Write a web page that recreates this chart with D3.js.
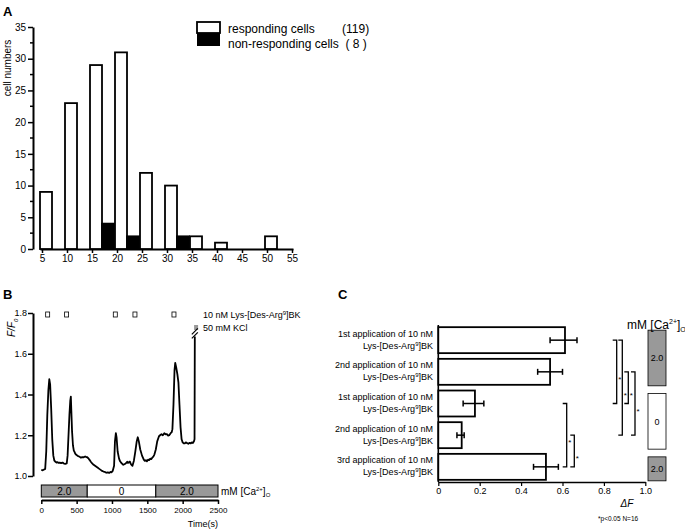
<!DOCTYPE html>
<html><head><meta charset="utf-8">
<script src="https://cdn.jsdelivr.net/npm/d3@7"></script>
<style>
body{margin:0;background:#fff;}
svg{display:block;font-family:"Liberation Sans",Arial,Helvetica,sans-serif;}
</style></head>
<body><svg id="c" width="685" height="532"></svg>
<script>
// ---------- DATA ----------
// Panel A: histogram
const binsA = [5,10,15,20,25,30,35,40,45,50];
const respondingA = [9,23,29,31,12,10,2,1,0,2];
const nonRespondingA = [0,0,4,2,0,2,0,0,0,0];
const legendA = ["responding cells","non-responding cells"];
const legendCountsA = ["(119)","( 8 )"];
const yTicksA = [0,5,10,15,20,25,30,35];
const xTicksA = [5,10,15,20,25,30,35,40,45,50,55];

// Panel B: trace
const timeB = [0,20,40,55,70,85,100,113,125,140,155,170,185,200,215,230,245,260,280,300,320,340,360,372,385,398,410,418,425,435,448,460,470,480,495,510,525,540,560,580,600,620,635,650,670,685,700,720,740,760,780,800,820,840,860,880,900,920,940,960,980,995,1010,1030,1042,1055,1065,1080,1100,1115,1130,1145,1160,1175,1190,1205,1215,1225,1235,1245,1255,1265,1275,1290,1310,1330,1350,1365,1380,1400,1425,1450,1465,1480,1495,1510,1525,1540,1555,1570,1585,1600,1620,1640,1665,1680,1700,1720,1740,1760,1780,1795,1810,1830,1845,1855,1870,1885,1895,1910,1925,1940,1955,1970,1985,2000,2015,2030,2045,2060,2080,2100,2115,2130,2145,2160,2168,2172];
const ratioB = [1.03,1.028,1.032,1.035,1.12,1.30,1.42,1.475,1.45,1.33,1.18,1.10,1.075,1.07,1.066,1.068,1.064,1.066,1.063,1.066,1.061,1.06,1.062,1.10,1.20,1.30,1.37,1.39,1.32,1.22,1.15,1.125,1.118,1.11,1.104,1.10,1.097,1.095,1.09,1.093,1.092,1.096,1.093,1.092,1.085,1.078,1.07,1.062,1.055,1.05,1.045,1.04,1.035,1.03,1.025,1.022,1.02,1.016,1.018,1.015,1.02,1.018,1.025,1.05,1.17,1.21,1.19,1.12,1.085,1.072,1.065,1.06,1.055,1.058,1.06,1.066,1.07,1.064,1.065,1.07,1.07,1.06,1.055,1.05,1.075,1.12,1.17,1.19,1.17,1.13,1.10,1.08,1.074,1.078,1.072,1.08,1.078,1.085,1.083,1.09,1.095,1.105,1.13,1.17,1.195,1.2,1.205,1.2,1.21,1.205,1.205,1.198,1.20,1.21,1.215,1.23,1.35,1.52,1.555,1.53,1.50,1.46,1.35,1.24,1.18,1.165,1.16,1.16,1.165,1.162,1.158,1.163,1.16,1.165,1.162,1.17,1.18,1.685];
const stimTimesB = [90,358,1047,1325,1877];
const kclTimeB = 2190;
const caSegmentsB = [{from:0,to:650,label:"2.0"},{from:650,to:1620,label:"0"},{from:1620,to:2500,label:"2.0"}];
const yTicksB = [1.0,1.2,1.4,1.6,1.8];
const xTicksB = [0,500,1000,1500,2000,2500];

// Panel C: bars
const catsC = ["1st","2nd","1st","2nd","3rd"];
const meansC = [0.612,0.54,0.177,0.113,0.52];
const errLoC = [0.54,0.48,0.12,0.09,0.46];
const errHiC = [0.67,0.60,0.22,0.125,0.58];
const xTicksC = [0,0.2,0.4,0.6,0.8,1.0];
const compsC = [[0,2],[0,3],[1,2],[1,3],[2,4],[3,4]];
const caGroupsC = [{from:0,to:1,label:"2.0"},{from:2,to:3,label:"0"},{from:4,to:4,label:"2.0"}];

// ---------- DRAW ----------
const svg = d3.select("#c");
const GRAY = "#999999";

// ===== Panel A =====
const gA = svg.append("g");
const xA = d3.scaleLinear().domain([4.6,55.2]).range([40,293]);
const yA = d3.scaleLinear().domain([0,35]).range([249,27]);
gA.append("text").attr("x",3).attr("y",16).attr("font-size",13).attr("font-weight","bold").text("A");

const axA = gA.append("g").attr("transform","translate(33,0)")
  .call(d3.axisLeft(yA).tickValues(yTicksA).tickSize(5).tickSizeOuter(0));
axA.select(".domain").attr("stroke-width",2);
axA.selectAll(".tick line").attr("stroke-width",1.5);
axA.selectAll(".tick text").attr("font-size",10).attr("x",-7).attr("font-family",null);
// minor ticks
gA.append("g").selectAll("line").data(yTicksA.slice(0,-1).map(d=>d+2.5)).join("line")
  .attr("x1",30).attr("x2",33).attr("y1",d=>yA(d)).attr("y2",d=>yA(d)).attr("stroke","#000").attr("stroke-width",1.5);

const axAx = gA.append("g").attr("transform","translate(0,249)")
  .call(d3.axisBottom(xA).tickValues(xTicksA).tickSize(4).tickSizeOuter(0));
axAx.select(".domain").attr("stroke-width",2);
axAx.selectAll(".tick line").attr("stroke-width",1.5);
axAx.selectAll(".tick text").attr("font-size",10).attr("y",6).attr("font-family",null);

gA.append("text").attr("transform","translate(11,68) rotate(-90)").attr("text-anchor","middle")
  .attr("font-size",10).text("cell numbers");

gA.append("g").selectAll("rect").data(binsA.map((b,i)=>({b,v:respondingA[i]})).filter(d=>d.v>0)).join("rect")
  .attr("x",d=>xA(d.b-0.4)).attr("width",d=>xA(d.b+2)-xA(d.b-0.4))
  .attr("y",d=>yA(d.v)).attr("height",d=>yA(0)-yA(d.v))
  .attr("fill","#fff").attr("stroke","#000").attr("stroke-width",1.8);
gA.append("g").selectAll("rect").data(binsA.map((b,i)=>({b,v:nonRespondingA[i]})).filter(d=>d.v>0)).join("rect")
  .attr("x",d=>xA(d.b+2)).attr("width",d=>xA(d.b+4.4)-xA(d.b+2))
  .attr("y",d=>yA(d.v)).attr("height",d=>yA(0)-yA(d.v))
  .attr("fill","#000").attr("stroke","#000").attr("stroke-width",1.8);

// legend
const lg = gA.append("g");
lg.append("rect").attr("x",197).attr("y",22).attr("width",23).attr("height",11).attr("fill","#fff").attr("stroke","#000").attr("stroke-width",1.8);
lg.append("rect").attr("x",197).attr("y",33).attr("width",23).attr("height",13).attr("fill","#000");
legendA.forEach((t,i)=>{
  lg.append("text").attr("x",228).attr("y",33+i*14.5).attr("font-size",12).text(t);
});
lg.append("text").attr("x",342).attr("y",33).attr("font-size",12).text(legendCountsA[0]);
lg.append("text").attr("x",345.5).attr("y",47.5).attr("font-size",12).text(legendCountsA[1]);

// ===== Panel B =====
const gB = svg.append("g");
const xB = d3.scaleLinear().domain([0,2500]).range([41.3,218]);
const yB = d3.scaleLinear().domain([1.0,1.8]).range([476,313]);
gB.append("text").attr("x",3).attr("y",299).attr("font-size",13).attr("font-weight","bold").text("B");

const axB = gB.append("g").attr("transform","translate(33,0)")
  .call(d3.axisLeft(yB).tickValues(yTicksB).tickFormat(d3.format(".1f")).tickSize(5).tickSizeOuter(0));
axB.select(".domain").attr("stroke-width",2);
axB.selectAll(".tick line").attr("stroke-width",1.5);
axB.selectAll(".tick text").attr("font-size",9).attr("x",-6).attr("font-family",null);

const axBx = gB.append("g").attr("transform","translate(0,500)")
  .call(d3.axisBottom(xB).tickValues(xTicksB).tickFormat(d3.format("d")).tickSize(4).tickSizeOuter(0));
axBx.select(".domain").attr("stroke-width",2);
axBx.selectAll(".tick line").attr("stroke-width",1.5);
axBx.selectAll(".tick text").attr("font-size",8).attr("y",7).attr("font-family",null);
gB.append("text").attr("x",218).attr("y",527).attr("text-anchor","end").attr("font-size",9).text("Time(s)");

const fl = gB.append("text").attr("transform","translate(15,337) rotate(-90)").attr("font-size",10).attr("font-style","italic");
fl.append("tspan").text("F/F");
fl.append("tspan").attr("font-size",6).attr("dy",3).text("0");

// Ca bar
gB.append("g").selectAll("rect").data(caSegmentsB).join("rect")
  .attr("x",d=>xB(d.from)).attr("width",d=>xB(d.to)-xB(d.from)).attr("y",485).attr("height",12)
  .attr("fill",d=>d.label==="0"?"#fff":GRAY).attr("stroke","#000").attr("stroke-width",1);
gB.append("g").selectAll("text").data(caSegmentsB).join("text")
  .attr("x",d=>(xB(d.from)+xB(d.to))/2).attr("y",494.5).attr("text-anchor","middle").attr("font-size",10)
  .text(d=>d.label);
const cl = gB.append("text").attr("x",221).attr("y",495).attr("font-size",10);
cl.append("tspan").text("mM [Ca");
cl.append("tspan").attr("font-size",6).attr("dy",-4).text("2+");
cl.append("tspan").attr("dy",4).text("]");
cl.append("tspan").attr("font-size",6).attr("dy",2).text("O");

// stimulus markers
gB.append("g").selectAll("rect").data(stimTimesB).join("rect")
  .attr("x",d=>xB(d)-2).attr("y",312).attr("width",4).attr("height",5)
  .attr("fill","#fff").attr("stroke","#000").attr("stroke-width",0.8);
gB.append("rect").attr("x",xB(kclTimeB)-2).attr("y",325).attr("width",4).attr("height",5).attr("fill",GRAY);
gB.append("text").attr("x",203).attr("y",318).attr("font-size",9).call(t=>{
  t.append("tspan").text("10 nM Lys-[Des-Arg");
  t.append("tspan").attr("font-size",6).attr("dy",-3).text("9");
  t.append("tspan").attr("dy",3).text("]BK");
});
gB.append("text").attr("x",203).attr("y",331).attr("font-size",9).text("50 mM KCl");

// trace
gB.append("path").datum(timeB.map((t,i)=>[t,ratioB[i]]))
  .attr("d",d3.line().x(d=>xB(d[0])).y(d=>yB(d[1])))
  .attr("fill","none").attr("stroke","#000").attr("stroke-width",1.8).attr("stroke-linejoin","round");
// break marks
const bx = xB(timeB[timeB.length-1]), by = yB(ratioB[ratioB.length-1]);
[0,4].forEach(o=>{
  gB.append("line").attr("x1",bx-3).attr("y1",by-o+2).attr("x2",bx+3).attr("y2",by-o-4)
    .attr("stroke","#000").attr("stroke-width",1.2);
});

// ===== Panel C =====
const gC = svg.append("g");
const xC = d3.scaleLinear().domain([0,1]).range([438.3,645.3]);
const yC = d3.scaleBand().domain(d3.range(catsC.length)).range([324,483]).paddingInner(0.18).paddingOuter(0.1);
const bw = yC.bandwidth();
gC.append("text").attr("x",338).attr("y",299).attr("font-size",13).attr("font-weight","bold").text("C");

const axC = gC.append("g").attr("transform","translate(0,482)")
  .call(d3.axisBottom(xC).tickValues(xTicksC).tickFormat(d=>d===0?"0":d3.format(".1f")(d)).tickSize(4).tickSizeOuter(0));
axC.select(".domain").attr("stroke-width",1.6);
axC.selectAll(".tick line").attr("stroke-width",1.2);
axC.selectAll(".tick text").attr("font-size",9).attr("y",6).attr("font-family",null);
gC.append("line").attr("x1",438.3).attr("x2",438.3).attr("y1",325).attr("y2",482).attr("stroke","#000").attr("stroke-width",1.6);
gC.append("text").attr("x",627).attr("y",507).attr("text-anchor","middle").attr("font-size",10).attr("font-style","italic").text("ΔF");
gC.append("text").attr("x",598).attr("y",521).attr("font-size",6.5).text("*p<0.05  N=16");

// bars
gC.append("g").selectAll("rect").data(meansC).join("rect")
  .attr("x",xC(0)).attr("y",(d,i)=>yC(i)).attr("width",d=>xC(d)-xC(0)).attr("height",bw)
  .attr("fill","#fff").attr("stroke","#000").attr("stroke-width",1.8);
// error bars
const eb = gC.append("g").attr("stroke","#000").attr("stroke-width",1.5);
meansC.forEach((m,i)=>{
  const cy = yC(i)+bw/2;
  eb.append("line").attr("x1",xC(errLoC[i])).attr("x2",xC(errHiC[i])).attr("y1",cy).attr("y2",cy);
  [errLoC[i],errHiC[i]].forEach(v=>eb.append("line").attr("x1",xC(v)).attr("x2",xC(v)).attr("y1",cy-3).attr("y2",cy+3));
});
// labels
catsC.forEach((c,i)=>{
  const cy = yC(i)+bw/2;
  gC.append("text").attr("x",433).attr("y",cy-3.5).attr("text-anchor","end").attr("font-size",9)
    .text(c+" application of 10 nM");
  const t = gC.append("text").attr("x",433).attr("y",cy+8.5).attr("text-anchor","end").attr("font-size",9);
  t.append("tspan").text("Lys-[Des-Arg");
  t.append("tspan").attr("font-size",6).attr("dy",-3).text("9");
  t.append("tspan").attr("dy",3).text("]BK");
});
// significance brackets
const bracketX = [616.7,622.3,628.3,635,566.7,574.3];
const br = gC.append("g");
compsC.forEach((c,k)=>{
  const y1 = yC(c[0])+bw/2, y2 = yC(c[1])+bw/2, x = bracketX[k];
  br.append("path").attr("d",`M${x-4},${y1}H${x}V${y2}H${x-4}`)
    .attr("fill","none").attr("stroke","#000").attr("stroke-width",1.3);
  br.append("text").attr("x",x+1.5).attr("y",(y1+y2)/2+10).attr("font-size",8).text("*");
});
// Ca boxes
const cb = gC.append("g");
caGroupsC.forEach(g=>{
  const y0 = yC(g.from)+3, y1 = yC(g.to)+bw+1;
  cb.append("rect").attr("x",648).attr("y",y0).attr("width",18).attr("height",y1-y0)
    .attr("fill",g.label==="0"?"#fff":GRAY).attr("stroke","#000").attr("stroke-width",0.8);
  cb.append("text").attr("x",657).attr("y",(y0+y1)/2+3.5).attr("text-anchor","middle").attr("font-size",9).text(g.label);
});
const cc = gC.append("text").attr("x",627).attr("y",329).attr("font-size",12);
cc.append("tspan").text("mM [Ca");
cc.append("tspan").attr("font-size",7).attr("dy",-5).text("2+");
cc.append("tspan").attr("dy",5).text("]");
cc.append("tspan").attr("font-size",7).attr("dy",3).text("O");
</script></body></html>
